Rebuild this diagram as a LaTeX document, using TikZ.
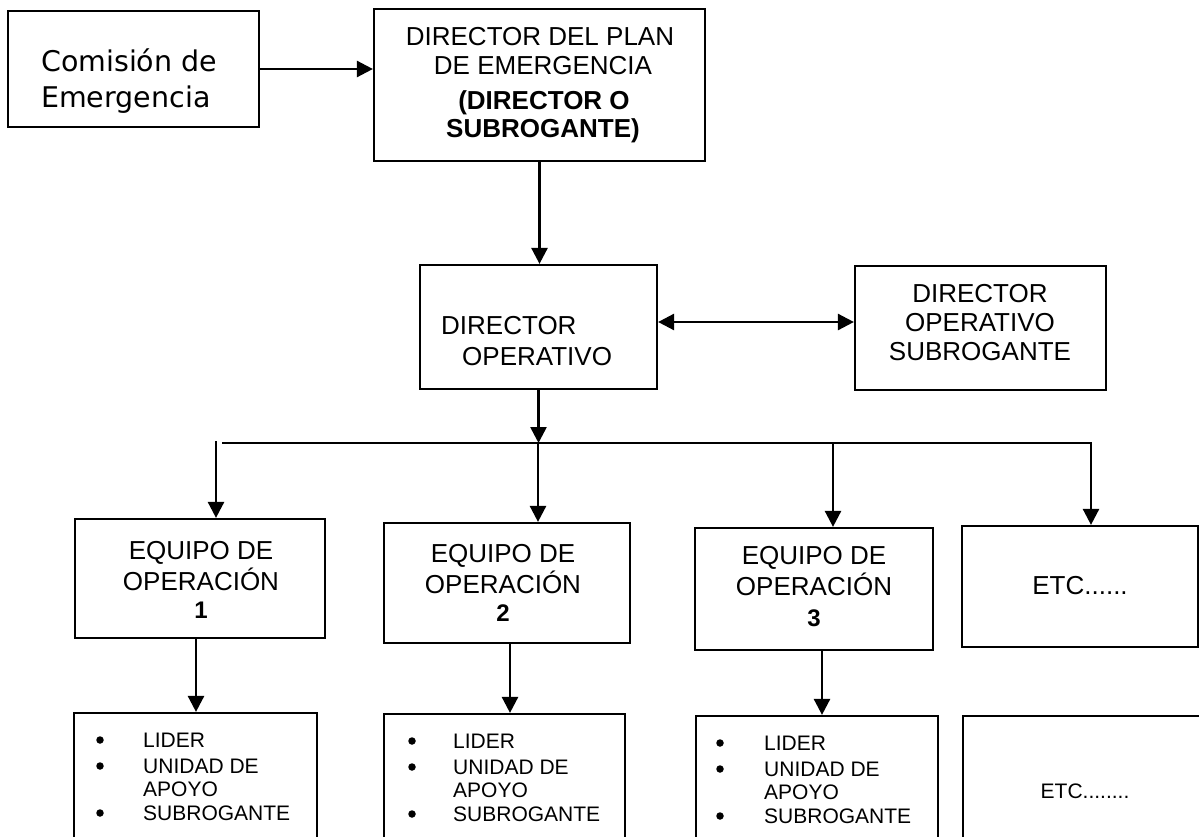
\documentclass[tikz,border=0pt]{standalone}
\usepackage{fontspec}
\setmainfont{Liberation Sans}
\newfontfamily\comfont{DejaVu Sans}
\usetikzlibrary{arrows.meta}
\begin{document}
\begin{tikzpicture}[x=1pt,y=-1pt,
  box/.style={draw, line width=2.2pt, rectangle, inner sep=0pt},
  tip/.tip={Triangle[length=16pt,width=16pt]},
  arr/.style={line width=2.6pt, -tip},
  arrboth/.style={line width=2.6pt, tip-tip},
  big/.style={font=\fontsize{26}{29}\selectfont, inner sep=0pt, anchor=base},
  bigw/.style={font=\fontsize{26}{29}\selectfont, inner sep=0pt, anchor=base west},
  bigb/.style={font=\fontsize{26}{29}\selectfont\bfseries, inner sep=0pt, anchor=base},
  num/.style={font=\fontsize{24}{26}\selectfont\bfseries, inner sep=0pt, anchor=base},
  small/.style={font=\fontsize{21}{24}\selectfont, inner sep=0pt, anchor=base west},
  smallc/.style={font=\fontsize{21}{24}\selectfont, inner sep=0pt, anchor=base},
  bulletdot/.style={circle, fill, inner sep=0pt, minimum size=7.5pt},
  comtext/.style={font=\comfont\fontsize{28.5}{32}\selectfont, inner sep=0pt, anchor=base west},
]
\useasboundingbox (0,0) rectangle (1199,837);
\clip (0,0) rectangle (1199,837);

% ---------- boxes ----------
\node[box, minimum width=251pt, minimum height=116pt] (com) at (133.5,69) {};
\node[box, minimum width=331pt, minimum height=152pt] (dpe) at (539.5,85) {};
\node[box, minimum width=237pt, minimum height=124pt] (do) at (538.5,327) {};
\node[box, minimum width=251pt, minimum height=124pt] (dos) at (980.5,328) {};
\node[box, minimum width=250pt, minimum height=119pt] (e1) at (200,578.5) {};
\node[box, minimum width=246pt, minimum height=120pt] (e2) at (507,583) {};
\node[box, minimum width=238pt, minimum height=122pt] (e3) at (814,589) {};
\node[box, minimum width=236pt, minimum height=121pt] (etc) at (1080,586.5) {};
\node[box, minimum width=243pt, minimum height=137pt] (b1) at (195.5,781.5) {};
\node[box, minimum width=241pt, minimum height=136pt] (b2) at (504.5,782) {};
\node[box, minimum width=242pt, minimum height=134pt] (b3) at (817,783) {};
\node[box, minimum width=252pt, minimum height=134pt] (b4) at (1089,783) {};

% ---------- texts ----------
\node[comtext] (comt1) at (41,72) {Comisión de};
\node[comtext] (comt2) at (41,108) {Emergencia};

\node[big] (dpet1) at (540,45.5) {DIRECTOR DEL PLAN};
\node[big] (dpet2) at (543,74.5) {DE EMERGENCIA};
\node[bigb] (dpet3) at (544,109.5) {(DIRECTOR O};
\node[bigb] (dpet4) at (543,138) {SUBROGANTE)};

\node[bigw] (dot1) at (441,334) {DIRECTOR};
\node[bigw] (dot2) at (462,365) {OPERATIVO};

\node[big] (dost1) at (980,302) {DIRECTOR};
\node[big] (dost2) at (980,331) {OPERATIVO};
\node[big] (dost3) at (980,360) {SUBROGANTE};

\node[big] (e1t1) at (201,559) {EQUIPO DE};
\node[big] (e1t2) at (201,590) {OPERACIÓN};
\node[num] (e1t3) at (201,618) {1};

\node[big] (e2t1) at (503,562) {EQUIPO DE};
\node[big] (e2t2) at (503,593) {OPERACIÓN};
\node[num] (e2t3) at (503,621) {2};

\node[big] (e3t1) at (814,564) {EQUIPO DE};
\node[big] (e3t2) at (814,595) {OPERACIÓN};
\node[num] (e3t3) at (814,626) {3};

\node[big] (etct) at (1080,594) {ETC......};

% bottom lists
\foreach \bx/\tx/\dy/\nm in {100/143/0/a, 412/453/1/b, 720/764/3/c}{
  \node[bulletdot] (bul1\nm) at (\bx,740+\dy) {};
  \node[bulletdot] (bul2\nm) at (\bx,766+\dy) {};
  \node[bulletdot] (bul3\nm) at (\bx,813+\dy) {};
  \node[small] (it1\nm) at (\tx,747+\dy) {LIDER};
  \node[small] (it2\nm) at (\tx,773+\dy) {UNIDAD DE};
  \node[small] (it3\nm) at (\tx,796+\dy) {APOYO};
  \node[small] (it4\nm) at (\tx,820+\dy) {SUBROGANTE};
}
\node[smallc] (b4t) at (1085,798.5) {ETC........};

% ---------- connectors ----------
\draw[arr] (com.east) -- (com.east -| dpe.west);
\draw[arr] (dpe.south) -- (dpe.south |- do.north);
\draw[arrboth] (do.east |- 0,322) -- (dos.west |- 0,322);

\coordinate (busL) at (222,443);
\coordinate (busR) at (1091,443);
\coordinate (l1) at (216,441);
\coordinate (j2) at (538,443);
\coordinate (j3) at (833,443);

\draw[arr] (do.south) -- (do.south |- busL);
\draw[arr] (busL) -- (busR) -- (busR |- etc.north);
\draw[arr] (l1) -- (l1 |- e1.north);
\draw[arr] (j2) -- (j2 |- e2.north);
\draw[arr] (j3) -- (j3 |- e3.north);

\draw[arr] ([xshift=-4pt]e1.south) -- ([xshift=-4pt]e1.south |- b1.north);
\draw[arr] ([xshift=3pt]e2.south) -- ([xshift=3pt]e2.south |- b2.north);
\draw[arr] ([xshift=8pt]e3.south) -- ([xshift=8pt]e3.south |- b3.north);
\end{tikzpicture}
\end{document}
